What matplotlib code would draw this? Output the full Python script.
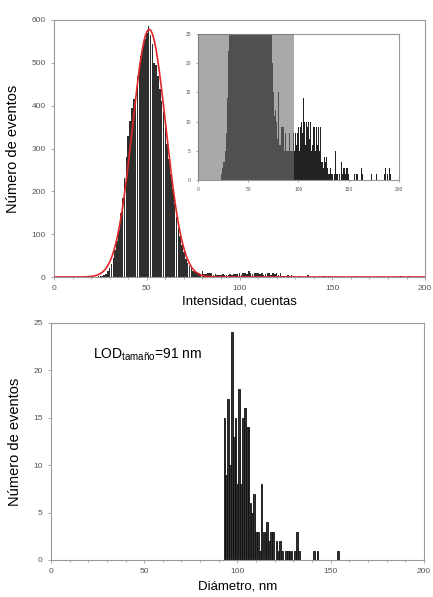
import numpy as np
import matplotlib
matplotlib.use("Agg")
import matplotlib.pyplot as plt

plt.rcParams['font.family'] = ['Liberation Sans', 'DejaVu Sans']
plt.rcParams['mathtext.fontset'] = 'custom'
plt.rcParams['mathtext.rm'] = 'Liberation Sans'

# ---------------- data: intensity histogram (bin width 1 count) ----------------
int_start = 23
int_counts = [
    1, 2, 3, 3, 5, 8, 14, 22, 30, 45,             # 23-32
    62, 85, 110, 150, 185, 230, 280, 330, 365, 395,  # 33-42
    415, 420, 470, 500, 515, 540, 555, 570, 585, 565,  # 43-52
    545, 500, 495, 470, 440, 410, 385, 350, 310, 275,  # 53-62
    240, 205, 170, 140, 115, 95, 75, 58, 42, 32,       # 63-72
    25, 20, 15, 11, 12, 10, 7, 15, 6, 6,               # 73-82
    9, 9, 9, 5, 8, 5, 5, 5, 8, 5,                      # 83-92
    5, 5, 8, 5, 8, 6, 8, 9, 5, 9,                      # 93-102
    10, 8, 14, 10, 6, 10, 9, 10, 7, 10,                # 103-112
    5, 6, 9, 9, 5, 9, 6, 9, 5, 9,                      # 113-122
    3, 3, 2, 4, 3, 4, 2, 1, 1, 2,                      # 123-132
    1, 1, 0, 1, 5, 1, 1, 0, 1, 0,                      # 133-142
    3, 1, 2, 2, 1, 2, 2, 1, 0, 0,                      # 143-152
    0, 0, 0, 1, 0, 1, 1, 0, 0, 0,                      # 153-162
    2, 1, 0, 0, 0, 0, 0, 0, 0, 0,                      # 163-172
    1, 0, 0, 0, 0, 1, 0, 0, 0, 0,                      # 173-182
    0, 0, 0, 1, 2, 0, 1, 0, 2, 1,                      # 183-192
]
# Gaussian fit shown in red
fit_amplitude = 578
fit_center = 51.3
fit_sigma = 9.0

# ---------------- data: diameter histogram ----------------
diam_bins = [93, 94, 95, 96, 97, 98, 99, 100, 101, 102, 103, 104, 105, 106,
             107, 108, 109, 110, 111, 112, 113, 114, 115, 116, 117, 118, 119,
             121, 122, 123, 124, 126, 127, 128, 129, 131, 132, 133, 141, 143, 154]
diam_counts = [15, 9, 17, 10, 24, 13, 15, 8, 18, 8, 15, 16, 14, 14,
               6, 5, 7, 3, 3, 1, 8, 3, 3, 4, 2, 3, 3,
               2, 1, 2, 1, 1, 1, 1, 1, 1, 3, 1, 1, 1, 1]

top_xticks = [0, 50, 100, 150, 200]
top_yticks = [0, 100, 200, 300, 400, 500, 600]
inset_yticks = [0, 5, 10, 15, 20, 25]
bot_yticks = [0, 5, 10, 15, 20, 25]

int_x = np.arange(int_start, int_start + len(int_counts))

fig = plt.figure(figsize=(4.33, 5.97), dpi=100)

spine_c = '#999999'
tick_c = '#555555'

def style(ax, fs):
    for s in ax.spines.values():
        s.set_color(spine_c)
        s.set_linewidth(0.8)
    ax.tick_params(colors=spine_c, labelcolor=tick_c, labelsize=fs,
                   length=2.5, width=0.6, direction='out')

# ---- top main ----
ax1 = fig.add_axes([0.1247, 0.536, 0.857, 0.4305])
ax1.bar(int_x, int_counts, width=0.85, color='#2e2e2e', edgecolor='none', zorder=2)
xf = np.linspace(0, 200, 801)
ax1.plot(xf, fit_amplitude * np.exp(-(xf - fit_center) ** 2 / (2 * fit_sigma ** 2)),
         color='#e0262a', lw=1.2, zorder=3)
ax1.set_xlim(0, 200)
ax1.set_ylim(0, 600)
ax1.set_xticks(top_xticks)
ax1.set_yticks(top_yticks)
ax1.set_xticks(np.arange(0, 201, 10), minor=True)
ax1.tick_params(which='minor', length=1.5, colors=spine_c)
style(ax1, 6)
ax1.set_ylabel('Número de eventos', fontsize=10.5, labelpad=8)
ax1.set_xlabel('Intensidad, cuentas', fontsize=9.5, labelpad=2)

# ---- inset ----
ax2 = fig.add_axes([0.457, 0.6985, 0.4645, 0.2446])
ax2.bar(int_x, int_counts, width=1.0, color='#222222', edgecolor='none', zorder=2)
ax2.axvspan(0, 96, color='#707070', alpha=0.6, lw=0, zorder=3)
ax2.set_xlim(0, 200)
ax2.set_ylim(0, 25)
ax2.set_xticks(top_xticks)
ax2.set_yticks(inset_yticks)
style(ax2, 3.5)
ax2.tick_params(length=1.5)

# ---- bottom ----
ax3 = fig.add_axes([0.1178, 0.062, 0.861, 0.397])
ax3.bar(diam_bins, diam_counts, width=0.9, color='#333333', edgecolor='#111111',
        linewidth=0.6, zorder=2)
ax3.set_xlim(0, 200)
ax3.set_ylim(0, 25)
ax3.set_xticks(top_xticks)
ax3.set_yticks(bot_yticks)
ax3.set_xticks(np.arange(0, 201, 10), minor=True)
ax3.tick_params(which='minor', length=1.5, colors=spine_c)
style(ax3, 6)
ax3.set_ylabel('Número de eventos', fontsize=10.5, labelpad=8)
ax3.set_xlabel('Diámetro, nm', fontsize=9.5, labelpad=4)
ax3.text(22.5, 21.6, r'LOD$_{\mathrm{tamaño}}$=91 nm', fontsize=10, va='center', ha='left')

fig.savefig('out.png', dpi=100)
